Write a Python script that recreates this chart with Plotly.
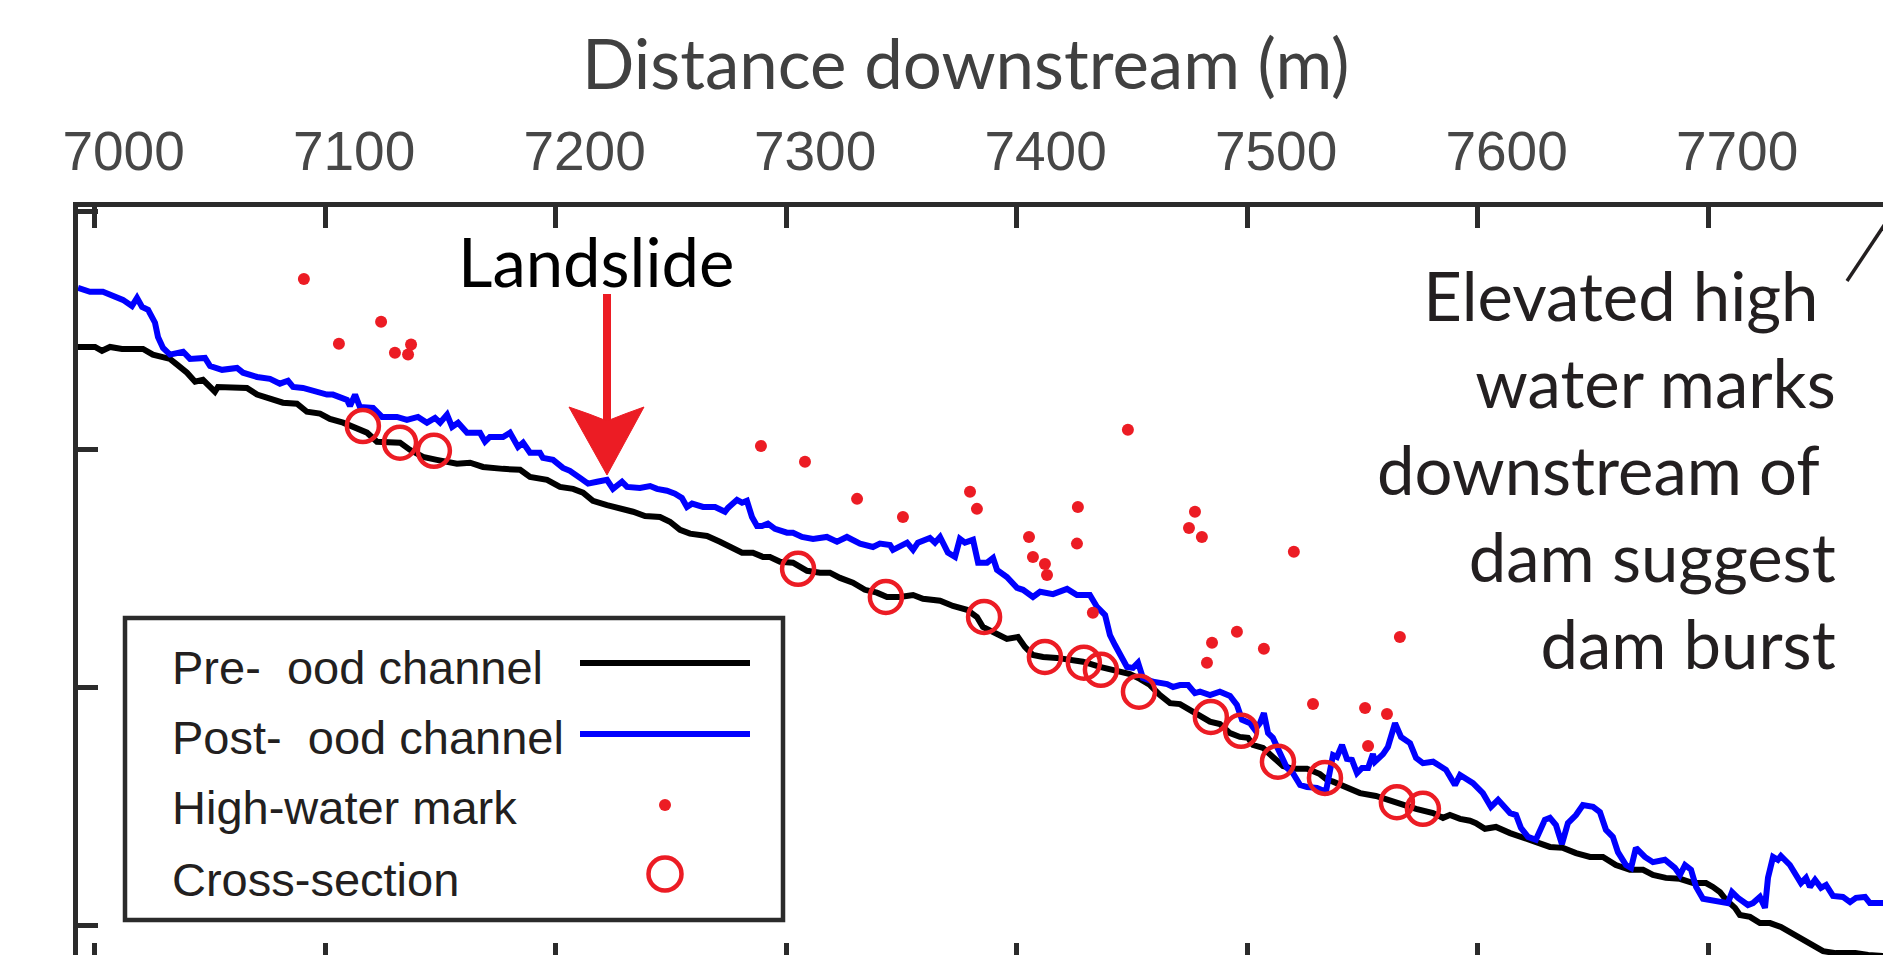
import plotly.graph_objects as go

# ---------------- data (distance downstream in m, elevation in m, relative) ----------------
pre_flood_profile = [
    (6992.8, 12.16), (7000.2, 12.16), (7003.2, 12.08), (7006.7, 12.16), (7011.9, 12.12), (7021.0, 12.12), (7025.3, 12.00), (7032.7, 11.91), (7035.8, 11.79), (7040.1, 11.62),
    (7043.6, 11.43), (7047.0, 11.47), (7050.1, 11.32), (7052.2, 11.22), (7053.5, 11.32), (7060.0, 11.30), (7066.1, 11.30), (7070.5, 11.16), (7076.1, 11.09), (7081.7, 10.99),
    (7087.8, 10.97), (7092.1, 10.80), (7097.8, 10.76), (7102.1, 10.65), (7107.8, 10.57), (7112.1, 10.48), (7118.2, 10.36), (7122.5, 10.17), (7128.2, 10.15), (7132.5, 10.15),
    (7136.8, 10.00), (7142.5, 9.85), (7148.5, 9.79), (7157.2, 9.71), (7162.9, 9.73), (7168.5, 9.64), (7177.2, 9.60), (7184.6, 9.58), (7188.9, 9.43), (7196.3, 9.37),
    (7201.9, 9.22), (7207.6, 9.18), (7211.9, 9.10), (7216.2, 8.93), (7222.3, 8.84), (7227.9, 8.78), (7233.6, 8.70), (7238.8, 8.61), (7245.3, 8.59), (7249.6, 8.49),
    (7254.0, 8.32), (7258.3, 8.24), (7265.7, 8.19), (7271.3, 8.07), (7275.7, 7.96), (7280.9, 7.84), (7285.6, 7.84), (7290.0, 7.75), (7293.0, 7.75), (7297.4, 7.65),
    (7303.0, 7.63), (7309.1, 7.46), (7314.7, 7.42), (7319.0, 7.42), (7323.4, 7.31), (7329.0, 7.21), (7334.2, 7.06), (7339.4, 7.00), (7343.8, 6.91), (7349.4, 6.91),
    (7355.1, 6.95), (7359.4, 6.87), (7366.8, 6.83), (7372.4, 6.72), (7378.5, 6.64), (7382.8, 6.49), (7385.4, 6.28), (7389.8, 6.18), (7395.8, 6.03), (7400.6, 6.07),
    (7403.6, 5.86), (7407.1, 5.69), (7411.5, 5.65), (7417.5, 5.63), (7423.2, 5.59), (7428.8, 5.55), (7436.2, 5.44), (7443.6, 5.34), (7449.2, 5.29), (7453.5, 5.19),
    (7457.9, 5.06), (7462.2, 4.85), (7466.6, 4.68), (7470.9, 4.66), (7475.2, 4.54), (7479.6, 4.39), (7483.9, 4.29), (7488.2, 4.24), (7492.6, 4.05), (7496.9, 3.97),
    (7500.4, 3.95), (7502.6, 3.80), (7506.9, 3.74), (7511.2, 3.55), (7515.6, 3.36), (7519.9, 3.30), (7526.0, 3.30), (7531.6, 3.19), (7534.7, 3.07), (7537.3, 3.03),
    (7543.3, 2.92), (7549.0, 2.79), (7555.9, 2.73), (7564.6, 2.58), (7573.3, 2.46), (7580.7, 2.37), (7585.0, 2.27), (7588.0, 2.33), (7592.4, 2.25), (7596.7, 2.21),
    (7599.3, 2.16), (7603.2, 2.04), (7608.0, 2.08), (7614.1, 1.95), (7619.7, 1.85), (7625.3, 1.74), (7631.4, 1.66), (7637.1, 1.64), (7642.7, 1.53), (7648.8, 1.45),
    (7654.4, 1.45), (7660.0, 1.28), (7666.1, 1.18), (7671.8, 1.18), (7676.1, 1.07), (7681.7, 1.01), (7687.8, 0.99), (7693.5, 0.90), (7699.1, 0.90), (7702.1, 0.82),
    (7705.2, 0.71), (7707.8, 0.55), (7711.7, 0.38), (7713.8, 0.23), (7718.2, 0.19), (7722.5, 0.06), (7726.9, 0.06), (7731.6, -0.02), (7735.5, -0.13), (7739.9, -0.23),
    (7744.2, -0.36), (7749.9, -0.53), (7755.5, -0.57), (7763.9, -0.57), (7769.5, -0.61), (7775.9, -0.63),
]

post_flood_profile = [
    (6992.8, 13.40), (6998.0, 13.32), (7003.6, 13.32), (7008.0, 13.24), (7012.3, 13.15), (7016.2, 13.02), (7018.4, 13.19), (7020.6, 13.00), (7023.2, 12.94), (7026.2, 12.67),
    (7027.5, 12.37), (7029.7, 12.14), (7032.7, 12.00), (7038.4, 12.06), (7041.4, 11.91), (7047.9, 11.93), (7050.1, 11.76), (7055.3, 11.68), (7061.8, 11.72), (7064.4, 11.62),
    (7070.5, 11.53), (7076.1, 11.49), (7080.4, 11.39), (7083.9, 11.45), (7086.1, 11.32), (7090.4, 11.30), (7096.5, 11.22), (7100.8, 11.16), (7103.4, 11.16), (7109.5, 11.05),
    (7110.8, 10.92), (7113.0, 11.16), (7115.1, 10.90), (7120.8, 10.88), (7124.7, 10.69), (7131.2, 10.69), (7135.5, 10.63), (7140.3, 10.69), (7144.2, 10.57), (7147.7, 10.67),
    (7149.9, 10.57), (7152.9, 10.74), (7155.1, 10.48), (7157.7, 10.57), (7161.6, 10.36), (7167.2, 10.36), (7169.4, 10.17), (7171.5, 10.27), (7177.2, 10.27), (7180.2, 10.36),
    (7183.7, 10.06), (7185.9, 10.15), (7188.9, 9.94), (7193.2, 9.94), (7194.5, 9.83), (7198.9, 9.79), (7203.2, 9.62), (7206.2, 9.56), (7210.6, 9.41), (7214.1, 9.29),
    (7218.0, 9.33), (7222.3, 9.37), (7224.9, 9.18), (7228.8, 9.33), (7231.0, 9.22), (7236.6, 9.20), (7241.0, 9.24), (7244.0, 9.18), (7248.3, 9.14), (7251.8, 9.08),
    (7254.8, 8.99), (7257.0, 8.80), (7259.2, 8.87), (7264.0, 8.80), (7269.2, 8.80), (7273.5, 8.70), (7274.8, 8.78), (7278.7, 8.95), (7280.9, 8.89), (7283.0, 8.93),
    (7285.2, 8.59), (7287.4, 8.40), (7289.5, 8.40), (7292.1, 8.45), (7295.2, 8.34), (7300.4, 8.26), (7303.0, 8.26), (7306.9, 8.17), (7311.7, 8.13), (7317.7, 8.17),
    (7322.1, 8.07), (7326.4, 8.17), (7332.1, 8.03), (7337.7, 7.96), (7340.7, 8.03), (7345.1, 8.00), (7346.4, 7.90), (7352.5, 8.05), (7355.1, 7.90), (7357.2, 8.05),
    (7362.4, 8.15), (7364.6, 8.05), (7366.8, 8.17), (7370.2, 7.84), (7373.3, 7.75), (7375.4, 8.13), (7377.6, 8.05), (7381.1, 8.11), (7383.3, 7.63), (7387.2, 7.63),
    (7389.8, 7.73), (7391.5, 7.48), (7395.8, 7.33), (7400.2, 7.10), (7402.8, 7.06), (7407.1, 6.91), (7410.2, 7.02), (7415.8, 6.97), (7421.9, 7.08), (7426.2, 6.95),
    (7431.8, 6.95), (7434.9, 6.70), (7438.4, 6.53), (7440.5, 6.11), (7442.7, 5.90), (7445.7, 5.63), (7447.9, 5.44), (7450.5, 5.42), (7452.7, 5.53), (7454.8, 5.21),
    (7459.2, 5.13), (7465.3, 5.08), (7467.9, 5.02), (7470.9, 5.06), (7474.4, 5.06), (7477.4, 4.89), (7479.6, 4.92), (7483.9, 4.85), (7488.2, 4.92), (7492.6, 4.83),
    (7495.6, 4.64), (7497.8, 4.33), (7501.3, 4.26), (7503.4, 4.12), (7505.6, 4.26), (7507.3, 4.47), (7509.1, 4.05), (7511.2, 3.95), (7514.3, 3.63), (7517.3, 3.32),
    (7519.9, 3.21), (7523.0, 2.96), (7526.0, 2.92), (7530.3, 2.90), (7534.2, 2.82), (7536.0, 3.21), (7537.3, 3.59), (7539.0, 3.55), (7541.2, 3.80), (7543.3, 3.51),
    (7545.5, 3.49), (7547.7, 3.21), (7549.9, 3.32), (7552.5, 3.32), (7554.6, 3.61), (7555.5, 3.45), (7559.0, 3.61), (7561.1, 3.76), (7564.2, 4.26), (7566.8, 3.97),
    (7570.7, 3.84), (7573.3, 3.53), (7576.3, 3.42), (7580.7, 3.45), (7586.3, 3.28), (7590.2, 2.96), (7592.4, 3.17), (7598.0, 3.00), (7602.3, 2.79), (7605.8, 2.50),
    (7608.9, 2.65), (7614.1, 2.37), (7616.7, 2.33), (7618.8, 2.06), (7621.9, 1.87), (7625.3, 1.81), (7629.2, 2.23), (7631.4, 2.27), (7634.0, 2.12), (7636.6, 1.72),
    (7639.2, 2.16), (7642.7, 2.33), (7645.7, 2.54), (7650.1, 2.50), (7653.1, 2.39), (7655.7, 2.02), (7658.7, 1.87), (7660.9, 1.55), (7664.4, 1.28), (7666.6, 1.22),
    (7668.7, 1.64), (7672.6, 1.45), (7676.1, 1.34), (7681.3, 1.39), (7685.6, 1.22), (7687.8, 1.07), (7690.0, 1.28), (7692.6, 1.18), (7694.8, 0.82), (7697.8, 0.57),
    (7702.1, 0.53), (7706.5, 0.50), (7708.6, 0.48), (7710.4, 0.71), (7713.0, 0.59), (7717.3, 0.44), (7719.5, 0.48), (7722.5, 0.61), (7724.7, 0.38), (7726.0, 1.01),
    (7728.2, 1.45), (7730.3, 1.39), (7731.6, 1.47), (7735.5, 1.28), (7738.1, 1.07), (7740.3, 0.90), (7742.5, 1.01), (7744.2, 0.82), (7746.4, 0.97), (7749.0, 0.80),
    (7751.2, 0.86), (7754.2, 0.63), (7758.5, 0.61), (7761.6, 0.50), (7764.2, 0.59), (7768.1, 0.61), (7770.2, 0.48), (7775.9, 0.48),
]

high_water_marks = [
    (7090.8, 13.59), (7124.3, 12.69), (7106.0, 12.23), (7130.3, 12.04), (7137.3, 12.21), (7136.0, 12.00),
    (7289.1, 10.08), (7308.2, 9.75), (7330.8, 8.97), (7350.7, 8.59), (7379.8, 9.12), (7382.8, 8.76),
    (7405.4, 8.17), (7407.1, 7.75), (7412.3, 7.60), (7413.2, 7.37), (7448.3, 10.42), (7426.6, 8.80),
    (7426.2, 8.03), (7477.4, 8.70), (7474.8, 8.36), (7480.4, 8.17), (7433.1, 6.58), (7520.3, 7.86),
    (7495.6, 6.18), (7484.8, 5.95), (7507.3, 5.82), (7482.6, 5.53), (7566.3, 6.07), (7528.6, 4.66),
    (7551.2, 4.58), (7560.7, 4.45), (7552.5, 3.78),
]

cross_sections = [
    (7116.4, 10.50), (7132.5, 10.15), (7147.2, 9.98), (7305.2, 7.50), (7343.3, 6.91), (7385.9, 6.49),
    (7412.3, 5.65), (7429.2, 5.53), (7436.6, 5.38), (7453.1, 4.92), (7484.3, 4.39), (7497.4, 4.10),
    (7513.4, 3.45), (7533.8, 3.11), (7565.0, 2.60), (7576.3, 2.46),
]

x_tick_values = [7000, 7100, 7200, 7300, 7400, 7500, 7600, 7700]
x_tick_labels = ["7000", "7100", "7200", "7300", "7400", "7500", "7600", "7700"]
y_tick_values = [0, 5, 10, 15]
x_range = [6992.8, 7775.9]
y_range = [-0.61, 15.10]

legend_labels = ["Pre-\u00a0\u00a0ood channel", "Post-\u00a0\u00a0ood channel", "High-water mark", "Cross-section"]
x_title = "Distance downstream (m)"
landslide_label = "Landslide"
note_lines = ["Elevated high\u00a0", "water marks", "downstream of\u00a0", "dam suggest", "dam burst"]

# ---------------- styling / layout helpers ----------------
W, H = 1883, 955
ML, MT = 78, 207
PW, PH = W - ML, H - MT
RED = "#ec1c24"
AX = "#2b2b2b"
MYRIAD = "Lato, 'Open Sans', sans-serif"
HELV = "'Liberation Sans', Arial, sans-serif"


def pxx(xp):
    return (xp - ML) / PW


def pxy(yp):
    return (H - yp) / PH


def ppath(points):
    """SVG path in paper coordinates from page-pixel anchor points (decoration only)."""
    cmds = []
    for cmd, pts in points:
        cmds.append(cmd + " ".join(f"{pxx(a):.5f},{pxy(b):.5f}" for a, b in pts))
    return " ".join(cmds) + " Z"


fig = go.Figure()
fig.add_trace(go.Scatter(x=[p[0] for p in pre_flood_profile], y=[p[1] for p in pre_flood_profile],
                         mode="lines", line=dict(color="#000000", width=6), hoverinfo="skip"))
fig.add_trace(go.Scatter(x=[p[0] for p in post_flood_profile], y=[p[1] for p in post_flood_profile],
                         mode="lines", line=dict(color="#0000ff", width=6), hoverinfo="skip"))
fig.add_trace(go.Scatter(x=[p[0] for p in high_water_marks], y=[p[1] for p in high_water_marks],
                         mode="markers", marker=dict(color=RED, size=12, line=dict(width=0)), hoverinfo="skip"))
fig.add_trace(go.Scatter(x=[p[0] for p in cross_sections], y=[p[1] for p in cross_sections],
                         mode="markers", marker=dict(symbol="circle-open", color=RED, size=32,
                                                     line=dict(color=RED, width=4.5)), hoverinfo="skip"))
# empty trace so that the bottom tick-only axis is drawn
fig.add_trace(go.Scatter(x=[], y=[], xaxis="x2", hoverinfo="skip"))

shapes = [
    # legend frame
    dict(type="rect", xref="paper", yref="paper", x0=pxx(125), x1=pxx(783), y0=pxy(920), y1=pxy(618),
         line=dict(color=AX, width=4.5), fillcolor="white", layer="above"),
    # legend samples
    dict(type="line", xref="paper", yref="paper", x0=pxx(580), x1=pxx(750), y0=pxy(663), y1=pxy(663),
         line=dict(color="#000000", width=6)),
    dict(type="line", xref="paper", yref="paper", x0=pxx(580), x1=pxx(750), y0=pxy(734), y1=pxy(734),
         line=dict(color="#0000ff", width=6)),
    dict(type="circle", xref="paper", yref="paper", x0=pxx(659), x1=pxx(671), y0=pxy(811), y1=pxy(799),
         line=dict(width=0), fillcolor=RED),
    dict(type="circle", xref="paper", yref="paper", x0=pxx(648.5), x1=pxx(681.5), y0=pxy(890.5), y1=pxy(857.5),
         line=dict(color=RED, width=4.5)),
    # leader line from the note
    dict(type="line", xref="paper", yref="paper", x0=pxx(1847), y0=pxy(281), x1=pxx(1900), y1=pxy(201.5),
         line=dict(color="#231f20", width=3.5)),
    # landslide arrow: shaft + swept arrowhead
    dict(type="line", xref="paper", yref="paper", x0=pxx(607), x1=pxx(607), y0=pxy(294), y1=pxy(425),
         line=dict(color=RED, width=8)),
    dict(type="path", xref="paper", yref="paper",
         path=ppath([("M", [(569, 407)]), ("Q", [(590, 414), (607, 421)]), ("Q", [(624, 414), (644, 407)]),
                     ("L", [(607, 475)])]),
         fillcolor=RED, line=dict(color=RED, width=1)),
]

annotations = [
    dict(text=x_title, xref="paper", yref="paper", x=pxx(965), y=pxy(62), xanchor="center", yanchor="middle",
         showarrow=False, font=dict(family=MYRIAD, size=69, color="#404040")),
    dict(text=landslide_label, xref="paper", yref="paper", x=pxx(595.5), y=pxy(261), xanchor="center",
         yanchor="middle", showarrow=False, font=dict(family=MYRIAD, size=67, color="#000000")),
    dict(text="<br>".join(note_lines), xref="paper", yref="paper", x=pxx(1838), y=pxy(469), xanchor="right",
         yanchor="middle", align="right", showarrow=False, font=dict(family=MYRIAD, size=67, color="#231f20")),
]
for label, yc in zip(legend_labels, [667, 737, 807, 879]):
    annotations.append(dict(text=label, xref="paper", yref="paper", x=pxx(170), y=pxy(yc), xanchor="left",
                            yanchor="middle", showarrow=False, font=dict(family=HELV, size=47, color="#231f20")))

fig.update_layout(
    width=W, height=H, autosize=False,
    margin=dict(l=ML, r=0, t=MT, b=0, pad=0),
    paper_bgcolor="white", plot_bgcolor="white", showlegend=False,
    xaxis=dict(range=x_range, side="top", showline=True, linewidth=4.5, linecolor=AX,
               ticks="inside", ticklen=21, tickwidth=5, tickcolor=AX,
               tickmode="array", tickvals=x_tick_values, ticktext=x_tick_labels,
               tickfont=dict(family=HELV, size=55, color="#474747"),
               ticklabelshift=29, ticklabelstandoff=10,
               showgrid=False, zeroline=False, fixedrange=True),
    xaxis2=dict(range=x_range, overlaying="x", side="bottom", anchor="y", showline=False,
                ticks="inside", ticklen=12, tickwidth=5, tickcolor=AX,
                tickmode="array", tickvals=x_tick_values, showticklabels=False,
                showgrid=False, zeroline=False, fixedrange=True),
    yaxis=dict(range=y_range, showline=True, linewidth=4.5, linecolor=AX,
               ticks="inside", ticklen=20, tickwidth=5, tickcolor=AX,
               tickmode="array", tickvals=y_tick_values, showticklabels=False,
               showgrid=False, zeroline=False, fixedrange=True),
    shapes=shapes, annotations=annotations,
)

fig.write_html("out.html", config={"displayModeBar": False},
               post_script="document.body.style.margin='0';document.body.style.overflow='hidden';")
